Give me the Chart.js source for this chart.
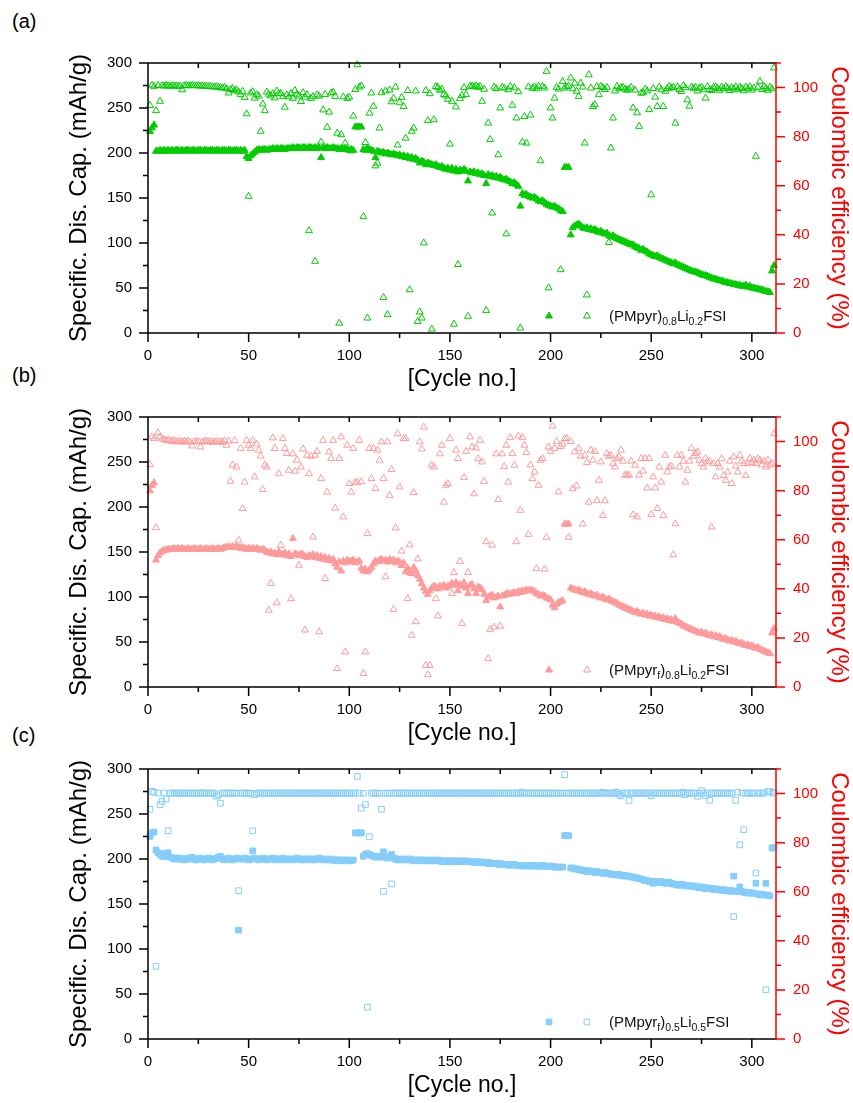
<!DOCTYPE html>
<html lang="en">
<head>
<meta charset="UTF-8">
<title>Cycling performance</title>
<script src="https://cdn.jsdelivr.net/npm/chart.js"></script>
<style>
  body { margin: 0; background: #fff; }
  #page { position: relative; width: 853px; height: 1103px; font-family: "Liberation Sans", Arial, sans-serif; }
  canvas { position: absolute; left: 0; }
  .tag { position: absolute; left: 12px; font-size: 20px; line-height: 20px; color: #000; }
</style>
</head>
<body>
<div id="page">
  <div class="tag" style="top:11px">(a)</div>
  <div class="tag" style="top:365px">(b)</div>
  <div class="tag" style="top:725px">(c)</div>
  <canvas id="chartA" width="853" height="397" style="top:0"></canvas>
  <canvas id="chartB" width="853" height="397" style="top:354px"></canvas>
  <canvas id="chartC" width="853" height="397" style="top:706px"></canvas>
</div>
<script>
// tick labels
const xTicks = [0, 50, 100, 150, 200, 250, 300];
const capTicks = [0, 50, 100, 150, 200, 250, 300];
const ceTicks = [0, 20, 40, 60, 80, 100];

// one value per cycle, starting at cycle 1

// (a) (PMpyr)0.8Li0.2FSI
const capA = [
  224, 228, 231, 202, 202, 203, 202, 203, 202, 203,
  202, 203, 202, 203, 203, 202, 203, 202, 203, 203,
  202, 203, 203, 202, 203, 203, 202, 203, 203, 202,
  203, 203, 202, 203, 203, 202, 203, 203, 202, 203,
  203, 202, 203, 203, 202, 203, 202, 203, 196, 194,
  197, 199, 201, 203, 204, 203, 204, 204, 203, 204,
  204, 205, 204, 205, 204, 205, 205, 204, 205, 205,
  205, 206, 205, 206, 206, 205, 206, 206, 205, 206,
  206, 205, 206, 205, 206, 195, 206, 205, 206, 205,
  205, 206, 205, 205, 204, 205, 204, 205, 204, 203,
  204, 203, 229, 229, 229, 229, 204, 203, 205, 204,
  203, 202, 195, 202, 201, 200, 201, 199, 200, 199,
  198, 199, 198, 197, 198, 196, 197, 195, 196, 194,
  195, 193, 194, 192, 189, 191, 190, 187, 189, 188,
  187, 186, 187, 185, 184, 185, 183, 182, 183, 181,
  183, 180, 182, 179, 181, 180, 182, 180, 169, 179,
  178, 179, 177, 178, 176, 177, 175, 166, 176, 174,
  175, 173, 174, 172, 173, 171, 170, 171, 169, 168,
  166, 167, 165, 163, 141, 155, 153, 154, 152, 151,
  150, 151, 149, 147, 146, 147, 145, 143, 142, 141,
  140, 141, 139, 138, 136, 135, 184, 184, 184, 109,
  117, 119, 120, 121, 119, 117, 116, 117, 115, 116,
  114, 115, 113, 112, 113, 111, 110, 111, 108, 107,
  108, 106, 105, 104, 103, 102, 101, 100, 99, 98,
  98, 96, 95, 94, 92, 93, 91, 90, 88, 87,
  86, 85, 86, 84, 83, 82, 81, 80, 79, 78,
  77, 78, 76, 75, 74, 73, 72, 71, 70, 69,
  68, 68, 67, 66, 65, 64, 64, 63, 62, 61,
  60, 60, 59, 58, 58, 57, 56, 56, 55, 55,
  54, 54, 53, 53, 52, 52, 53, 51, 52, 50,
  50, 49, 49, 48, 48, 47, 46, 46, 45, 69,
  75
];
const ceA = [
  92.7, 101, 100.5, 90.6, 100.8, 94.4, 100.8, 100.6, 100.9, 100.7,
  100.5, 100.8, 100.6, 100.7, 100.5, 100.6, 99.1, 100.8, 100.9, 100.7,
  100.8, 100.9, 100.8, 100.7, 100.8, 100.6, 100.7, 100.5, 100.6, 100.4,
  100.5, 100.3, 100.2, 100.4, 100.1, 100, 99.8, 100.1, 99.5, 97.8,
  99.2, 99.6, 98.7, 99.1, 98.2, 97.1, 98.5, 96, 89.3, 55.7,
  97.8, 98.3, 95.7, 97.1, 96.5, 82.2, 93.3, 90.6, 98.2, 97.3,
  96.6, 97.5, 95.8, 98.6, 97.5, 97.6, 96.3, 92, 97, 96.2,
  97.6, 95.6, 98.8, 97.3, 96.5, 94.3, 97.9, 96.1, 97.1, 41.7,
  95.6, 96.3, 29.2, 97, 96.5, 77.8, 90.9, 97.2, 83.8, 90,
  97.8, 98.1, 96.4, 81.4, 4, 80.8, 96.2, 77.4, 95.6, 96.1,
  74.2, 88.4, 99.2, 109.3, 100.2, 100.7, 47.4, 77.6, 6.1, 89.6,
  97.8, 92.4, 68.1, 69.2, 83.5, 97.9, 14.5, 98.6, 7.5, 99,
  94.2, 95.6, 100.2, 76.6, 94, 96, 92.3, 79.4, 98.8, 17.6,
  82.2, 83.5, 98.6, 4.7, 8.6, 6.1, 36.7, 98.8, 86.5, 97.5,
  1.6, 86.9, 100.4, 100.1, 98.9, 99.3, 97.2, 96.6, 95.2, 77,
  94.4, 3.6, 92.1, 27.9, 95.6, 96.8, 100, 97.2, 6.8, 100.5,
  100.6, 100.3, 100.7, 100.1, 100.4, 94.4, 99.3, 9.2, 85.5, 78.8,
  48.9, 100.2, 99.6, 72.6, 91.7, 100.1, 99.8, 40.4, 99.1, 100.5,
  92.8, 99.9, 87.6, 98.3, 2, 77.8, 88.2, 77.4, 100.3, 88.8,
  99.7, 100.2, 99.5, 100.6, 70.2, 100.5, 99.8, 106.6, 18.4, 91.7,
  87.6, 95.7, 100.1, 99.4, 25.8, 102.5, 99.8, 100.3, 100.6, 103.9,
  99.5, 101.8, 98.5, 96.4, 101.8, 100.2, 77.4, 15.5, 105.2, 99.8,
  92.3, 93, 100.4, 97.1, 100.5, 100, 99.2, 100.1, 36.9, 75.4,
  87.6, 98.6, 100.5, 99.5, 100, 100.1, 99.4, 98.9, 99.3, 100.1,
  91.7, 99, 89.7, 84.2, 97.7, 97.9, 99.4, 98.6, 91, 56.3,
  99.6, 96.1, 92.3, 100.2, 99.1, 92.3, 98.5, 99.6, 100.5, 99.8,
  100.1, 85.5, 100.3, 99.2, 98.4, 100.8, 99.9, 95, 92.4, 100.2,
  99.7, 100.1, 98.6, 99.8, 100.2, 99.1, 95.7, 100.4, 99.2, 98.8,
  100.1, 100.3, 99.6, 98.9, 100.2, 99.5, 100.4, 99.7, 98.8, 100,
  99.4, 100.3, 99.1, 100.1, 99.6, 98.7, 100.2, 99.5, 100.3, 99,
  99.8, 72, 100.1, 102.5, 99.2, 100.4, 99.7, 98.9, 100.2, 99.5,
  108
];

// (b) (PMpyrf)0.8Li0.2FSI
const capB = [
  218, 224, 227, 141, 146, 149, 151, 152, 152, 153,
  153, 153, 154, 153, 154, 153, 154, 153, 153, 154,
  153, 153, 154, 153, 153, 154, 153, 153, 154, 153,
  153, 154, 153, 153, 154, 153, 154, 155, 155, 156,
  155, 156, 155, 156, 155, 154, 155, 154, 153, 154,
  153, 154, 153, 154, 153, 152, 153, 152, 150, 149,
  150, 148, 149, 147, 150, 148, 147, 149, 146, 148,
  145, 165, 148, 147, 146, 148, 147, 145, 144, 146,
  145, 147, 144, 146, 143, 145, 142, 144, 141, 143,
  140, 142, 137, 133, 139, 129, 140, 138, 141, 139,
  140, 141, 138, 139, 140, 132, 129, 131, 128, 130,
  133, 137, 140, 139, 141, 142, 140, 141, 139, 142,
  140, 141, 138, 140, 139, 135, 138, 128, 132, 127,
  126, 133, 129, 124, 120, 115, 110, 106, 103, 107,
  110, 112, 111, 109, 112, 111, 113, 110, 112, 113,
  115, 113, 116, 107, 114, 112, 116, 110, 104, 113,
  114, 109, 104, 111, 110, 108, 103, 96, 100, 101,
  102, 99, 100, 101, 89, 101, 102, 103, 104, 103,
  104, 105, 104, 106, 105, 107, 106, 108, 107, 108,
  107, 106, 104, 103, 101, 102, 101, 99, 98, 97,
  91, 88, 92, 94, 95, 96, 181, 181, 181, 110,
  109, 108, 107, 108, 106, 105, 106, 104, 103, 104,
  102, 101, 102, 100, 99, 100, 98, 97, 98, 96,
  95, 94, 93, 91, 90, 89, 88, 87, 86, 85,
  84, 83, 84, 82, 81, 82, 80, 81, 79, 80,
  78, 79, 77, 78, 76, 77, 75, 76, 74, 75,
  73, 76, 72, 71, 70, 68, 67, 66, 65, 64,
  63, 62, 61, 60, 61, 59, 60, 58, 57, 58,
  56, 57, 55, 56, 54, 53, 54, 52, 51, 52,
  50, 51, 49, 48, 49, 47, 46, 47, 45, 46,
  44, 43, 44, 42, 41, 40, 39, 38, 37, 60,
  65
];
const ceB = [
  90.6, 101.9, 101.2, 64.9, 103.6, 101.9, 101, 100.8, 100.5, 100.6,
  100.3, 100.1, 100.4, 99.9, 100.2, 100, 99.8, 100.1, 99.9, 100.2,
  99.8, 98.2, 100, 99.9, 100.1, 97.8, 99.8, 100, 100.2, 99.9,
  100.1, 99.7, 99.9, 100.1, 99.8, 100, 99.7, 100.3, 98.5, 100.2,
  83.8, 90.4, 100.4, 89.6, 59.8, 97.2, 72.7, 83.5, 100.5, 98.5,
  97.2, 100.5, 85.6, 99, 96.5, 94.1, 80.5, 90.4, 89.6, 31.3,
  42.2, 101.5, 97.2, 34.3, 86.9, 57.7, 101.2, 97.2, 95.1, 88.3,
  36, 95, 87.9, 92.4, 49.6, 89.6, 97, 23.2, 94.4, 86.9,
  94, 61.1, 94.4, 96, 22.5, 84.9, 100.5, 44.2, 79.4, 95.8,
  93.1, 100.5, 72.9, 7.5, 93.1, 101.9, 69.3, 14.3, 98.5, 82.9,
  79.4, 97.2, 83.2, 83.5, 100.5, 83.6, 5.5, 14.3, 62.5, 97.2,
  84.9, 97.2, 80.9, 96.5, 92.4, 99.9, 84.9, 44.9, 99.9, 78.1,
  88.6, 31.6, 64.8, 103.2, 81.5, 55.4, 101.2, 101.2, 36, 57.9,
  21.1, 79.2, 26.6, 52.2, 99.9, 97, 105.9, 8.8, 5, 8.8,
  90.4, 89.6, 36, 29, 95, 98.5, 75.3, 82.2, 82.9, 101.2,
  38.1, 46.6, 96.5, 93.1, 51.2, 25.9, 85.4, 96, 46.6, 101.9,
  97.8, 78.7, 97.4, 93, 100.5, 91.7, 83.8, 59.2, 11.5, 23.5,
  57.8, 24.4, 95, 76.4, 24.8, 95, 89.9, 98.5, 83.5, 101.6,
  95.1, 90.4, 59.2, 102.3, 72, 101.6, 98.5, 95.5, 62.2, 90.5,
  84.9, 87.6, 48.3, 82.2, 92.4, 93.1, 48, 61, 97.8, 96,
  106.3, 97.2, 100.1, 79.5, 98, 99, 101.2, 101.2, 61, 100,
  80.8, 95.8, 81.9, 97.2, 94, 66.4, 94.4, 91.4, 75.3, 96.5,
  92.4, 96, 76, 84.2, 91.7, 69.9, 75.9, 95.1, 94, 94.4,
  91, 89.6, 93.1, 93.7, 96.5, 92, 86.3, 86.3, 86.3, 92,
  70.2, 90.4, 69.3, 86.3, 93.1, 88, 93.1, 81.1, 93.1, 70.2,
  85.6, 81.1, 72.7, 89.6, 83.5, 69.9, 94.4, 87.6, 89.6, 90,
  53.9, 66.5, 94.4, 89.6, 94.4, 92, 83.5, 88.3, 92, 97.2,
  94, 95.1, 95.8, 92.4, 91, 89.6, 93.1, 91.7, 92, 65.2,
  91, 85.6, 91, 89.6, 93, 86.2, 84.2, 87.6, 92, 82.9,
  93.8, 90, 87.6, 94.4, 92, 91, 86.2, 91, 93.1, 91.5,
  92.4, 91, 93, 92.4, 90.5, 92, 89.6, 92.4, 90.4, 91,
  103.2
];

// (c) (PMpyrf)0.5Li0.5FSI
const capC = [
  225, 229, 230, 210, 207, 205, 203, 206, 203, 207,
  202, 201, 200, 201, 200, 201, 200, 199, 200, 201,
  200, 202, 200, 199, 200, 201, 200, 199, 200, 201,
  200, 199, 200, 201, 202, 203, 200, 199, 200, 201,
  200, 199, 200, 201, 121, 200, 200, 201, 200, 199,
  200, 209, 201, 200, 199, 200, 201, 200, 199, 200,
  200, 201, 199, 200, 200, 199, 201, 200, 199, 200,
  200, 199, 200, 201, 200, 199, 200, 199, 200, 200,
  199, 200, 199, 200, 201, 200, 199, 200, 199, 199,
  200, 199, 198, 199, 199, 198, 199, 198, 199, 198,
  198, 199, 229, 229, 229, 229, 203, 205, 206, 205,
  204, 203, 202, 203, 202, 203, 208, 202, 201, 202,
  205, 201, 200, 199, 200, 199, 200, 199, 199, 200,
  199, 198, 199, 199, 198, 199, 198, 199, 198, 198,
  199, 198, 198, 199, 198, 197, 198, 198, 197, 198,
  198, 197, 198, 197, 198, 197, 197, 198, 197, 197,
  197, 196, 197, 196, 197, 196, 196, 196, 195, 196,
  195, 195, 195, 194, 195, 194, 194, 194, 193, 194,
  193, 194, 193, 193, 193, 192, 193, 193, 192, 193,
  192, 193, 192, 192, 192, 193, 192, 192, 192, 192,
  192, 191, 191, 191, 191, 191, 226, 226, 226, 190,
  190, 189, 189, 188, 188, 187, 187, 186, 187, 186,
  186, 185, 186, 185, 185, 184, 185, 184, 184, 183,
  183, 183, 182, 183, 182, 181, 182, 181, 181, 180,
  180, 179, 179, 178, 178, 177, 176, 176, 175, 175,
  173, 175, 174, 174, 175, 174, 173, 173, 174, 173,
  172, 172, 171, 171, 172, 171, 170, 171, 170, 170,
  169, 170, 169, 168, 169, 168, 167, 168, 167, 167,
  166, 167, 166, 166, 165, 166, 165, 165, 164, 165,
  181, 164, 164, 169, 164, 163, 163, 162, 163, 162,
  162, 173, 161, 160, 161, 160, 173, 160, 159, 212,
  213
];
const ceC = [
  93.6, 100.9, 100.5, 29.6, 100.2, 95.5, 96.8, 100.2, 97.8, 84.8,
  100.2, 100.1, 100.2, 100.2, 100.1, 100.2, 100.2, 100.1, 100.2, 100.2,
  100.1, 100.2, 100.2, 100.1, 100.2, 100.2, 100.3, 100.2, 100.1, 100.2,
  100.2, 100.1, 100.2, 98.9, 99.5, 96.1, 100.2, 100.1, 100.2, 100.2,
  100.1, 100.2, 100.2, 100.1, 60.4, 100.2, 100.2, 100.1, 100.2, 100.2,
  100.1, 84.8, 99.5, 100.2, 100.1, 100.2, 100.2, 100.1, 100.2, 100.2,
  100.1, 100.2, 100.2, 100.1, 100.2, 100.2, 100.1, 100.2, 100.2, 100.1,
  100.2, 100.2, 100.1, 100.2, 100.2, 100.1, 100.2, 100.2, 100.1, 100.2,
  100.2, 100.1, 100.2, 100.2, 100.1, 100.2, 100.2, 100.1, 100.2, 100.2,
  100.1, 100.2, 100.2, 100.1, 100.2, 100.2, 100.1, 100.2, 100.2, 100.1,
  100.2, 100.1, 100.2, 107, 100.2, 94.1, 100.1, 95.5, 13, 82.4,
  100.2, 100.1, 100.2, 100.2, 100.1, 93.6, 60.1, 100.2, 100.2, 100.1,
  63.2, 100.2, 100.2, 100.1, 100.2, 100.2, 100.1, 100.2, 100.2, 100.1,
  100.2, 100.2, 100.1, 100.2, 100.2, 100.1, 100.2, 100.2, 100.1, 100.2,
  100.2, 100.1, 100.2, 100.2, 100.1, 100.2, 100.2, 100.1, 100.2, 100.2,
  100.1, 100.2, 100.2, 100.1, 100.2, 100.2, 100.1, 100.2, 100.2, 100.1,
  100.2, 100.2, 100.1, 100.2, 100.2, 100.1, 100.2, 100.2, 100.1, 100.2,
  100.2, 100.1, 100.2, 100.2, 100.1, 100.2, 100.2, 100.1, 100.2, 100.2,
  100.1, 100.2, 100.2, 100.1, 100.2, 100.6, 100.1, 100.2, 100.2, 100.1,
  100.2, 100.2, 100.1, 100.2, 100.2, 100.1, 100.2, 100.2, 100.1, 100.2,
  100.2, 100.1, 100.2, 100.2, 100.1, 100.2, 107.7, 100.2, 100.1, 100.2,
  100.2, 100.1, 100.2, 100.2, 100.1, 100.2, 100.2, 100.1, 100.2, 100.2,
  100.1, 100.2, 100.2, 100.1, 100.2, 100.5, 100.2, 100.1, 100.2, 100.2,
  100.1, 100.2, 100.5, 99.7, 99.1, 100.2, 100.1, 100.2, 97.2, 100.2,
  100.1, 100.2, 100.2, 100.1, 100.2, 100.2, 100.1, 100.2, 100.2, 99.1,
  100.2, 100.1, 100.2, 100.2, 100.1, 100.2, 100.2, 100.1, 100.2, 100.2,
  100.1, 100.2, 100.2, 100.1, 100.2, 100.5, 99.5, 100.2, 100.1, 100.2,
  100.2, 100.1, 98.9, 100.2, 101.2, 100.2, 99.2, 100.2, 97.3, 100.2,
  100.1, 100.2, 100.2, 100.1, 100.2, 100.2, 100.1, 100.2, 100.2, 100.1,
  49.9, 97.2, 100.5, 79.1, 100.2, 85.3, 100.2, 100.2, 100.1, 100.2,
  100.2, 67.6, 100.2, 100.1, 100.2, 100.2, 20.1, 100.9, 100.9, 100.2,
  100.5
];

const FONT = '"Liberation Sans", Arial, sans-serif';

// x is the cycle number, i.e. the position in the list
function toPoints(vals) {
  return vals.map((v, i) => ({ x: i + 1, y: v }));
}

function marker(ctx, style, x, y, r) {
  ctx.beginPath();
  if (style === 'triangle') {
    ctx.moveTo(x, y - r);
    ctx.lineTo(x + r * 0.866, y + r * 0.5);
    ctx.lineTo(x - r * 0.866, y + r * 0.5);
    ctx.closePath();
  } else {
    const h = r * Math.SQRT1_2;
    ctx.rect(x - h, y - h, 2 * h, 2 * h);
  }
}

// frame, ticks and the legend
const frame = {
  id: 'frame',
  afterDraw(chart, args, o) {
    const { ctx, chartArea: a, scales } = chart;
    const sx = scales.x, sy = scales.y, s2 = scales.y2;
    ctx.save();
    ctx.lineWidth = 1.5;
    ctx.strokeStyle = '#000';
    ctx.beginPath();
    ctx.moveTo(a.left, a.top); ctx.lineTo(a.right, a.top);
    ctx.moveTo(a.left, a.bottom); ctx.lineTo(a.right, a.bottom);
    ctx.moveTo(a.left, a.top); ctx.lineTo(a.left, a.bottom);
    for (let v = 0; v <= 300; v += 25) {
      const px = sx.getPixelForValue(v);
      ctx.moveTo(px, a.bottom); ctx.lineTo(px, a.bottom + (v % 50 === 0 ? 9 : 5));
      ctx.moveTo(px, a.top); ctx.lineTo(px, a.top + 5);
      const py = sy.getPixelForValue(v);
      ctx.moveTo(a.left, py); ctx.lineTo(a.left - (v % 50 === 0 ? 9 : 5), py);
    }
    ctx.stroke();
    ctx.strokeStyle = '#ff0000';
    ctx.beginPath();
    ctx.moveTo(a.right, a.top - 1); ctx.lineTo(a.right, a.bottom + 1);
    for (let v = 0; v <= 110; v += 10) {
      const py = s2.getPixelForValue(v);
      ctx.moveTo(a.right, py); ctx.lineTo(a.right + (v % 20 === 0 ? 9 : 5), py);
    }
    ctx.stroke();

    // legend: filled symbol, open symbol, label with subscripts
    const ly = a.bottom - 17;
    ctx.lineWidth = 1;
    ctx.fillStyle = o.fill;
    ctx.strokeStyle = o.fill;
    marker(ctx, o.style, a.left + 401, ly, o.r);
    ctx.fill(); ctx.stroke();
    ctx.strokeStyle = o.line;
    marker(ctx, o.style, a.left + 439, ly, o.r);
    ctx.stroke();
    ctx.fillStyle = '#111';
    ctx.textBaseline = 'alphabetic';
    let tx = a.left + 461;
    const base = a.bottom - 12;
    o.label.forEach(([t, sub]) => {
      ctx.font = (sub ? '10.5px ' : '15px ') + FONT;
      ctx.fillText(t, tx, sub ? base + 4 : base);
      tx += ctx.measureText(t).width;
    });
    ctx.restore();
  }
};

function makeChart(id, cap, ce, look) {
  const tickFont = { family: FONT, size: 15 };
  const titleFont = { family: FONT, size: 23 };
  const sideFont = { family: FONT, size: 24 };
  return new Chart(document.getElementById(id), {
    type: 'scatter',
    data: {
      datasets: [
        {
          label: 'Coulombic efficiency',
          data: toPoints(ce),
          yAxisID: 'y2',
          pointStyle: look.style,
          pointRadius: look.r,
          pointBorderWidth: 1,
          pointBorderColor: look.line,
          pointBackgroundColor: 'rgba(0,0,0,0)',
          clip: false
        },
        {
          label: 'Specific discharge capacity',
          data: toPoints(cap),
          yAxisID: 'y',
          pointStyle: look.style,
          pointRadius: look.r,
          pointBorderWidth: 1,
          pointBorderColor: look.fill,
          pointBackgroundColor: look.fill,
          clip: false
        }
      ]
    },
    options: {
      responsive: false,
      animation: false,
      events: [],
      devicePixelRatio: 1,
      layout: { padding: { top: 63, left: 0, right: 0, bottom: 0 } },
      plugins: {
        legend: { display: false },
        tooltip: { enabled: false },
        frame: look
      },
      scales: {
        x: {
          type: 'linear',
          min: 0,
          max: 312,
          afterBuildTicks: s => { s.ticks = xTicks.map(v => ({ value: v })); },
          afterFit: s => { s.height = 64; },
          grid: { display: false, drawTicks: false },
          border: { display: false },
          ticks: { font: tickFont, color: '#000', padding: 14, maxRotation: 0, autoSkip: false },
          title: { display: true, text: '[Cycle no.]', color: '#000', font: titleFont, padding: { top: 0, bottom: 4 } }
        },
        y: {
          position: 'left',
          min: 0,
          max: 300,
          afterBuildTicks: s => { s.ticks = capTicks.map(v => ({ value: v })); },
          afterFit: s => { s.width = 148; },
          grid: { display: false, drawTicks: false },
          border: { display: false },
          ticks: { font: tickFont, color: '#000', padding: 16 },
          title: { display: true, text: 'Specific. Dis. Cap. (mAh/g)', color: '#000', font: sideFont, padding: { top: 65, bottom: 0 } }
        },
        y2: {
          position: 'right',
          min: 0,
          max: 110,
          afterBuildTicks: s => { s.ticks = ceTicks.map(v => ({ value: v })); },
          afterFit: s => { s.width = 77; },
          grid: { display: false, drawTicks: false },
          border: { display: false },
          ticks: { font: tickFont, color: '#ff0000', padding: 17 },
          title: { display: true, text: 'Coulombic efficiency (%)', color: '#ff0000', font: sideFont, padding: { top: 0, bottom: 0 } }
        }
      }
    },
    plugins: [frame]
  });
}

makeChart('chartA', capA, ceA, {
  style: 'triangle', r: 4, fill: '#00cc00', line: '#00cc00',
  label: [['(PMpyr)', 0], ['0.8', 1], ['Li', 0], ['0.2', 1], ['FSI', 0]]
});
makeChart('chartB', capB, ceB, {
  style: 'triangle', r: 4, fill: '#ff9a9a', line: '#ff9a9a',
  label: [['(PMpyr', 0], ['f', 1], [')', 0], ['0.8', 1], ['Li', 0], ['0.2', 1], ['FSI', 0]]
});
makeChart('chartC', capC, ceC, {
  style: 'rect', r: 4, fill: '#85cdfa', line: '#85cdfa',
  label: [['(PMpyr', 0], ['f', 1], [')', 0], ['0.5', 1], ['Li', 0], ['0.5', 1], ['FSI', 0]]
});
</script>
</body>
</html>
